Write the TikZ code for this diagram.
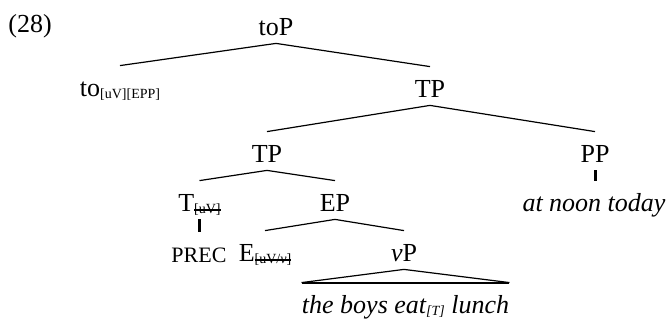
\documentclass[tikz,border=0pt]{standalone}
\usepackage{fontspec}
\setmainfont{Liberation Serif}
\newcommand{\fsub}[1]{\raisebox{-1pt}{\fontsize{7}{8}\selectfont #1}}
\newcommand{\fdel}[1]{\fsub{\setbox0=\hbox{#1}\rlap{\rule[1.4pt]{\wd0}{1.2pt}}\box0}}

\begin{document}
\begin{tikzpicture}[x=0.5pt, y=-0.5pt,
  cat/.style={font=\fontsize{13}{15}\selectfont, inner sep=0pt, text height=15.5pt, text depth=3.5pt, anchor=base},
  br/.style={line width=0.6pt},
  bar/.style={line width=1.5pt}]
\useasboundingbox (0,0) rectangle (669,320);
\node[cat, anchor=base west] (ex) at (8,33) {(28)};
\node[cat] (toP) at (276,36) {toP};
\node[cat] (to) at (120,97) {to\fsub{[uV][EPP]}};
\node[cat] (TPa) at (430,98) {TP};
\node[cat] (TPb) at (267,163) {TP};
\node[cat] (PP) at (595,163) {PP};
\node[cat] (T) at (199.5,212) {T\fdel{[uV]}};
\node[cat] (EP) at (335,212) {EP};
\node[cat] (noon) at (594,212) {\itshape at noon today};
\node[cat, font=\fontsize{11}{13}\selectfont] (prec) at (199,263) {PREC};
\node[cat] (E) at (265,262) {E\fdel{[uV/\textit{v}]}};
\node[cat] (vP) at (404,262) {\textit{v}P};
\node[cat] (lunch) at (405.5,314) {\itshape the boys eat\fsub{[T]} lunch};
\draw[br] (toP.south) -- (to.north);
\draw[br] (toP.south) -- (TPa.north);
\draw[br] (TPa.south) -- (TPb.north);
\draw[br] (TPa.south) -- (PP.north);
\draw[br] (TPb.south) -- (T.north);
\draw[br] (TPb.south) -- (EP.north);
\draw[br] (EP.south) -- (E.north);
\draw[br] (EP.south) -- (vP.north);
\draw[bar] (PP.south) -- (PP.south |- noon.north);
\draw[bar] (T.south) -- (T.south |- prec.north);
\draw[br] (lunch.north west) -- (vP.south) -- (lunch.north east);
\draw[line width=1pt] (lunch.north west) -- (lunch.north east);
\end{tikzpicture}
\end{document}
